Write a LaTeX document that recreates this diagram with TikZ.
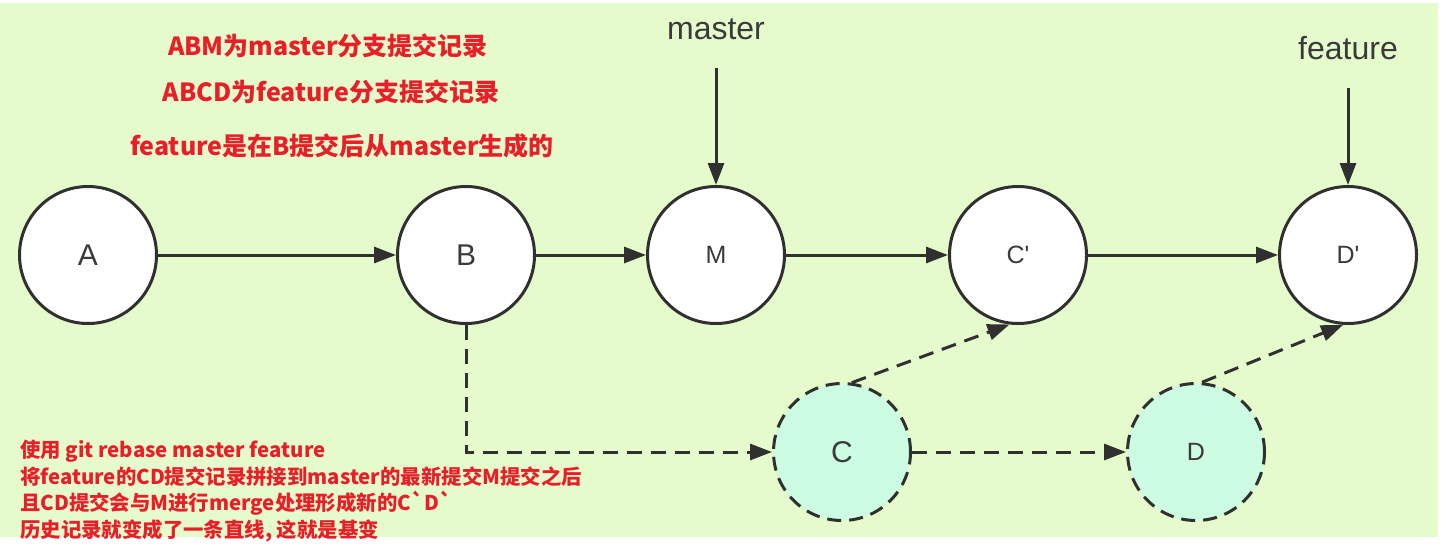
\documentclass[tikz,border=0pt]{standalone}
\usepackage{fontspec}
\setmainfont{Liberation Sans}
\newfontfamily\cjk{Noto Sans CJK SC}
\usepackage{tikz}
\usetikzlibrary{arrows.meta}
\definecolor{bggreen}{RGB}{229,251,204}
\definecolor{mint}{RGB}{204,252,226}
\definecolor{linegray}{RGB}{48,48,48}
\definecolor{labelgray}{RGB}{58,58,58}
\definecolor{notered}{RGB}{232,30,40}
\tikzset{
    commit/.style={circle, draw=linegray, line width=3pt, fill=white, minimum size=137pt, inner sep=0pt, text=labelgray, font=\fontsize{30}{36}\selectfont},% one commit of the history
    small/.style={font=\fontsize{25}{30}\selectfont},
    oldcommit/.style={commit, fill=mint, dash pattern=on 14pt off 8pt},
    arr/.style={-{Triangle[length=22pt,width=16pt]}, line width=3pt, draw=linegray},
    dasharr/.style={arr, dash pattern=on 15pt off 9pt},
    note/.style={text=notered, font=\cjk\bfseries\fontsize{25}{30}\selectfont},
    branch/.style={text=labelgray, font=\fontsize{32}{38}\selectfont},
}
\begin{document}
\begin{tikzpicture}[x=1pt, y=-1pt]
            \useasboundingbox (0,0) rectangle (1448,552);
            \fill[white] (0,0) rectangle (1448,552);
            \fill[bggreen] (0,3) rectangle (1438,537);
            % commits on the straight line
            \node[commit] (A) at (88,255) {A};
            \node[commit] (B) at (466,255) {B};
            \node[commit, small] (M) at (716,255) {M};
            \node[commit, small] (Cp) at (1018,255) {C\textquotesingle};
            \node[commit, small] (Dp) at (1348,255) {D\textquotesingle};
            % old feature commits
            \node[oldcommit] (C) at (842,452) {C};
            \node[oldcommit, small] (D) at (1196,452) {D};
            % branch pointers
            \node[branch] (master) at (716,29) {master};
            \node[branch] (feature) at (1348,48) {feature};
            \coordinate (mtop) at (716,68);
            \coordinate (ftop) at (1348,88);
            \draw[arr] (mtop) -- (M);
            \draw[arr] (ftop) -- (Dp);
            % history
            \draw[arr] (A) -- (B);
            \draw[arr] (B) -- (M);
            \draw[arr] (M) -- (Cp);
            \draw[arr] (Cp) -- (Dp);
            \draw[dasharr] (B.south) |- (C.west);
            \draw[dasharr] (C) -- (D);
            \draw[dasharr] (C.82) -- (Cp.263);
            \draw[dasharr] (D.85) -- (Dp.266);
            % notes
            \node[note] (n1) at (328,46) {ABM为master分支提交记录};
            \node[note] (n2) at (331,92) {ABCD为feature分支提交记录};
            \node[note] (n3) at (342,146) {feature是在B提交后从master生成的};
            \node[note, font=\cjk\bfseries\fontsize{20.4}{26.5}\selectfont, align=left, anchor=north west, inner sep=0pt] (n4) at (20,440)
                {使用 git rebase master feature\\
                 将feature的CD提交记录拼接到master的最新提交M提交之后\\
                 且CD提交会与M进行merge处理形成新的C\textasciigrave D\textasciigrave\\
                 历史记录就变成了一条直线, 这就是基变};
        \end{tikzpicture}
\end{document}
